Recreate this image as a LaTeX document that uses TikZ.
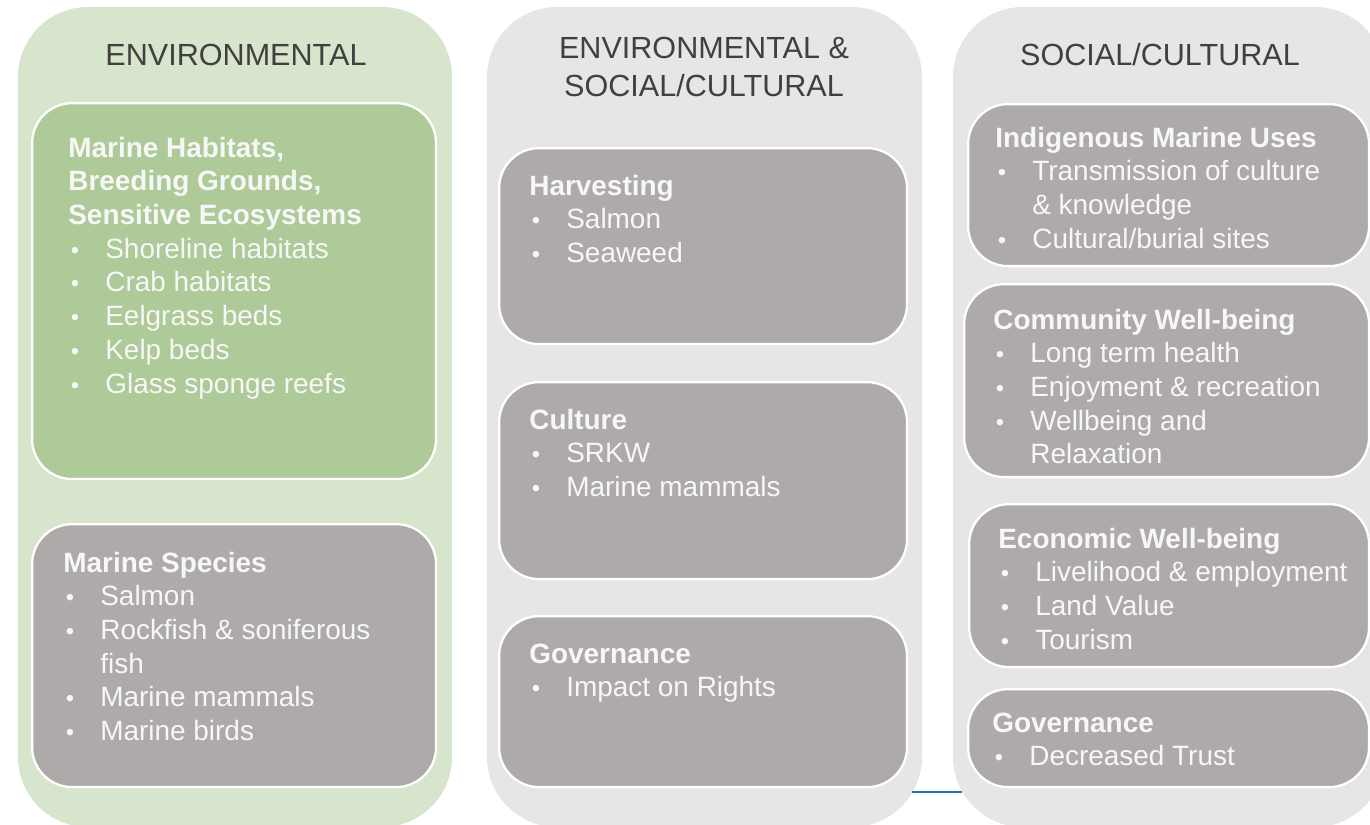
\documentclass[tikz,border=0pt]{standalone}
\usepackage{fontspec}
\setmainfont{Liberation Sans}
\definecolor{envouter}{HTML}{D6E5CB}
\definecolor{envinner}{HTML}{ADCA98}
\definecolor{colgray}{HTML}{E7E6E6}
\definecolor{boxgray}{HTML}{AEAAAA}
\definecolor{headtext}{HTML}{404040}
\definecolor{bodytext}{HTML}{F7F7F7}
\definecolor{lineblue}{HTML}{1F7A9A}
\newcommand{\bul}{\makebox[0.74cm][l]{\hspace{1.5pt}\scalebox{0.85}{\textbullet}}}
\newcommand{\ind}{\hspace*{0.74cm}}
\newcommand{\blk}[1]{\begin{tabular}[t]{@{}l@{}}#1\end{tabular}}

\begin{document}
\begin{tikzpicture}[x=0.02cm, y=-0.02cm,
  catbox/.style={draw=white, line width=1.3pt, rounded corners=0.8cm, anchor=north west, inner sep=0pt},
  head/.style={text=headtext, anchor=base, inner sep=0pt, font=\fontsize{17.4}{22}\selectfont},
  body/.style={text=bodytext, anchor=base west, inner sep=0pt, font=\fontsize{15.9}{19.2}\selectfont}]
  \useasboundingbox (0,0) rectangle (1370,825);
  \clip (0,0) rectangle (1370,825);

  % Columns
  \fill[envouter, rounded corners=1.4cm] (18,7) rectangle (452,827);
  \fill[colgray, rounded corners=1.4cm] (487,7) rectangle (922,827);
  \fill[colgray, rounded corners=1.4cm] (953,7) rectangle (1385,827);

  \node[head] (envhead) at (236,65) {ENVIRONMENTAL};
  \node[head] (bothhead) at (704,58) {\begin{tabular}[t]{@{}c@{}}ENVIRONMENTAL \&\\SOCIAL/CULTURAL\end{tabular}};
  \node[head] (sochead) at (1160,65) {SOCIAL/CULTURAL};

  % Environmental
  \node[catbox, fill=envinner, minimum width=8.08cm, minimum height=7.52cm] (habitats) at (31,102) {};
  \node[catbox, fill=boxgray, minimum width=8.08cm, minimum height=5.26cm] (species) at (31,523) {};
  \node[body] (habitatstxt) at (68,157) {\blk{\textbf{Marine Habitats,}\\\textbf{Breeding Grounds,}\\\textbf{Sensitive Ecosystems}\\
    \bul Shoreline habitats\\\bul Crab habitats\\\bul Eelgrass beds\\\bul Kelp beds\\\bul Glass sponge reefs}};
  \node[body] (speciestxt) at (63,572) {\blk{\textbf{Marine Species}\\\bul Salmon\\\bul Rockfish \& soniferous\\\ind fish\\
    \bul Marine mammals\\\bul Marine birds}};

  % Environmental & social/cultural
  \node[catbox, fill=boxgray, minimum width=8.16cm, minimum height=3.92cm] (harvest) at (498,147) {};
  \node[catbox, fill=boxgray, minimum width=8.16cm, minimum height=3.94cm] (culture) at (498,381) {};
  \node[catbox, fill=boxgray, minimum width=8.16cm, minimum height=3.42cm] (govmid) at (498,615) {};
  \node[body] (harvesttxt) at (529,195) {\blk{\textbf{Harvesting}\\\bul Salmon\\\bul Seaweed}};
  \node[body] (culturetxt) at (529,429) {\blk{\textbf{Culture}\\\bul SRKW\\\bul Marine mammals}};
  \node[body] (govmidtxt) at (529,663) {\blk{\textbf{Governance}\\\bul Impact on Rights}};

  % Social/cultural
  \node[catbox, fill=boxgray, minimum width=8.02cm, minimum height=3.24cm] (indig) at (967,103) {};
  \node[catbox, fill=boxgray, minimum width=8.10cm, minimum height=3.86cm] (community) at (963,283) {};
  \node[catbox, fill=boxgray, minimum width=8.00cm, minimum height=3.26cm] (economic) at (968,503) {};
  \node[catbox, fill=boxgray, minimum width=8.02cm, minimum height=1.96cm] (govright) at (967,688) {};
  \node[body] (indigtxt) at (995,147) {\blk{\textbf{Indigenous Marine Uses}\\\bul Transmission of culture\\\ind \& knowledge\\\bul Cultural/burial sites}};
  \node[body] (communitytxt) at (993,329) {\blk{\textbf{Community Well-being}\\\bul Long term health\\\bul Enjoyment \& recreation\\
    \bul Wellbeing and\\\ind Relaxation}};
  \node[body] (economictxt) at (998,548) {\blk{\textbf{Economic Well-being}\\\bul Livelihood \& employment\\\bul Land Value\\\bul Tourism}};
  \node[body] (govrighttxt) at (992,732) {\blk{\textbf{Governance}\\\bul Decreased Trust}};

  % Line in the gap
  \coordinate (gapleft) at (912,792);
  \coordinate (gapright) at (962,792);
  \draw[lineblue, line width=1.2pt] (gapleft) -- (gapright);
\end{tikzpicture}
\end{document}
